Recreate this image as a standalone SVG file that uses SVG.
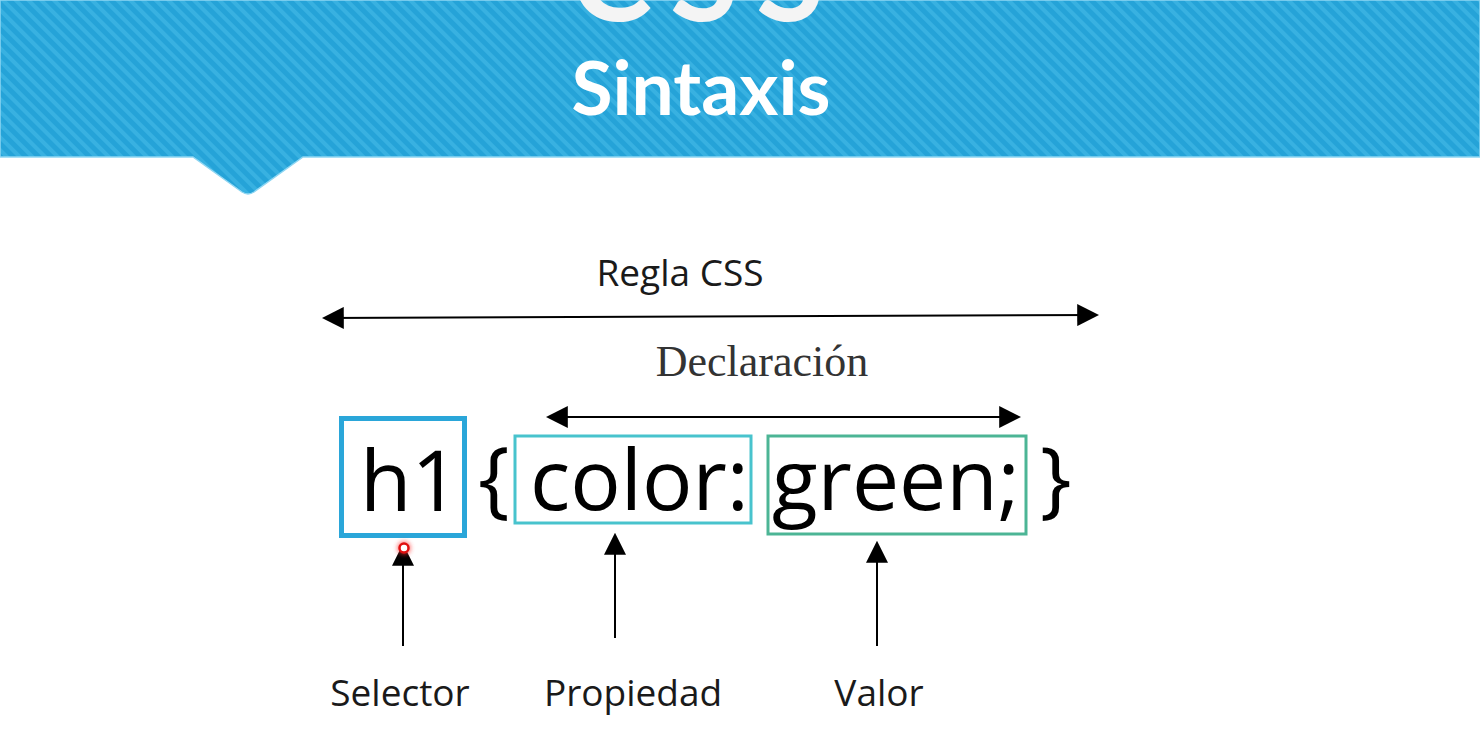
<svg xmlns="http://www.w3.org/2000/svg" width="1480" height="738" viewBox="0 0 1480 738">
  <defs>
    <pattern id="stripes" width="9" height="9" patternUnits="userSpaceOnUse" patternTransform="rotate(-45)">
      <rect width="9" height="9" fill="#25a3d8"/>
      <rect width="4" height="9" fill="#38b1e1"/>
    </pattern>
    <marker id="head" viewBox="0 0 20 20" refX="18" refY="10" markerWidth="22" markerHeight="22" markerUnits="userSpaceOnUse" orient="auto-start-reverse">
      <path d="M0,0 L20,10 L0,20 Z" fill="#000"/>
    </marker>
    <filter id="glow" x="-100%" y="-100%" width="300%" height="300%">
      <feGaussianBlur stdDeviation="2"/>
    </filter>
  </defs>
  <style>
    .label { font-family: "Open Sans", "Liberation Sans", sans-serif; font-size: 37px; fill: #1a1a1a; }
    .code { font-family: "Open Sans", "Liberation Sans", sans-serif; font-size: 84px; fill: #000; }
    .conn { stroke: #000; stroke-width: 2; fill: none; }
  </style>

  <rect width="1480" height="738" fill="#fff"/>

  <!-- header band with notch -->
  <g id="header">
    <path d="M0,0 H1480 V157 H303 L254,192 Q248,196 242,192 L193,157 H0 Z" fill="url(#stripes)" stroke="#8fd6f2" stroke-width="1.5"/>
    <text x="706" y="21" text-anchor="middle" font-family="Lato, 'DejaVu Sans', sans-serif" font-weight="bold" font-size="124" letter-spacing="18" fill="#f4f4f4">CSS</text>
    <text x="701" y="115" text-anchor="middle" font-family="Lato, 'DejaVu Sans', sans-serif" font-weight="bold" font-size="75" fill="#fff">Sintaxis</text>
  </g>

  <!-- connectors -->
  <g id="connectors">
    <line class="conn" x1="324" y1="318" x2="1097" y2="315" marker-start="url(#head)" marker-end="url(#head)"/>
    <line class="conn" x1="548" y1="417" x2="1019" y2="417" marker-start="url(#head)" marker-end="url(#head)"/>
    <line class="conn" x1="403" y1="646" x2="403" y2="546" marker-end="url(#head)"/>
    <line class="conn" x1="615" y1="638" x2="615" y2="535" marker-end="url(#head)"/>
    <line class="conn" x1="877" y1="646" x2="877" y2="543" marker-end="url(#head)"/>
  </g>

  <g id="regla">
    <text class="label" x="680" y="286" text-anchor="middle">Regla CSS</text>
  </g>
  <g id="declaracion">
    <text x="762" y="376" text-anchor="middle" font-family="'Liberation Serif', 'DejaVu Serif', serif" font-size="44" fill="#333">Declaración</text>
  </g>

  <g id="selector-box">
    <rect x="341.5" y="418.5" width="123" height="117" fill="none" stroke="#2aa6d9" stroke-width="5"/>
    <text class="code" x="360" y="511">h1</text>
  </g>
  <g id="open-brace">
    <text class="code" x="478" y="508">{</text>
  </g>
  <g id="propiedad-box">
    <rect x="515" y="436" width="236" height="87" fill="none" stroke="#48c3cd" stroke-width="3"/>
    <text class="code" x="530" y="510">color:</text>
  </g>
  <g id="valor-box">
    <rect x="768" y="436" width="258" height="98" fill="none" stroke="#4cb595" stroke-width="3"/>
    <text class="code" x="772" y="510">green;</text>
  </g>
  <g id="close-brace">
    <text class="code" x="1040" y="508">}</text>
  </g>

  <g id="selector-label">
    <text class="label" x="400" y="706" text-anchor="middle">Selector</text>
  </g>
  <g id="propiedad-label">
    <text class="label" x="633" y="706" text-anchor="middle">Propiedad</text>
  </g>
  <g id="valor-label">
    <text class="label" x="879" y="706" text-anchor="middle">Valor</text>
  </g>

  <!-- pointer highlight -->
  <g id="pointer">
    <circle cx="404" cy="548" r="7" fill="#ff3030" opacity="0.6" filter="url(#glow)"/>
    <circle cx="404" cy="548" r="4.5" fill="#fff" stroke="#e01010" stroke-width="2.5"/>
  </g>
</svg>
